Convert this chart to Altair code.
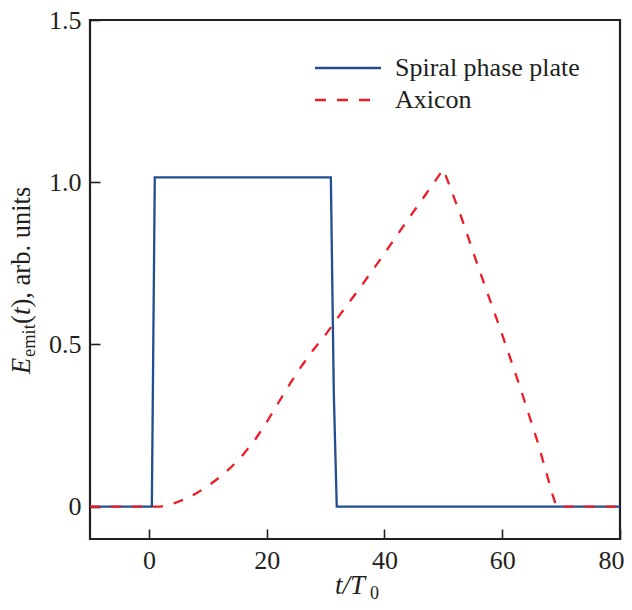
import altair as alt
import pandas as pd

# ---- data ----
spiral_t = [-10, 0.5, 1.0, 30.9, 31.4, 31.9, 80]
spiral_v = [0, 0, 1.015, 1.015, 0.35, 0, 0]

axicon_t = [-10, 2, 4, 6, 8, 10, 12, 14, 16, 18, 20, 22, 24, 26, 28, 30, 33, 36, 40, 44, 47, 50,
            53, 56, 60, 63, 66, 68.5, 69.2, 80]
axicon_v = [0, 0, 0.008, 0.022, 0.040, 0.063, 0.090, 0.122, 0.160, 0.205, 0.26, 0.32, 0.38, 0.435,
            0.485, 0.53, 0.605, 0.678, 0.78, 0.885, 0.962, 1.04,
            0.895, 0.735, 0.53, 0.37, 0.2, 0.04, 0, 0]

x_ticks = [0, 20, 40, 60, 80]
y_ticks = [0, 0.5, 1.0, 1.5]
legend_labels = ["Spiral phase plate", "Axicon"]

BLUE = "#224d8f"
RED = "#ee1c25"
INK = "#231f20"
FONT = "Liberation Serif"
W, H = 530, 519

df_s = pd.DataFrame({"t": spiral_t, "v": spiral_v})
df_a = pd.DataFrame({"t": axicon_t, "v": axicon_v})
one = pd.DataFrame({"a": [0]})

xs = alt.Scale(domain=[-10, 80], nice=False, zero=False)
ys = alt.Scale(domain=[-0.1, 1.5], nice=False, zero=False)

xaxis = alt.Axis(values=x_ticks, title=None, domain=False, grid=False, offset=-10,
                 tickSize=10, tickWidth=1.6, tickColor=INK, labelFont=FONT,
                 labelFontSize=26, labelColor=INK, labelPadding=8, labelFlush=True,
                 labelFlushOffset=4, labelOverlap=False)
yaxis = alt.Axis(values=y_ticks, title=None, domain=False, grid=False, offset=-10,
                 tickSize=10, tickWidth=1.6, tickColor=INK, labelFont=FONT,
                 labelFontSize=26, labelColor=INK, labelPadding=9, labelFlush=False,
                 labelOverlap=False,
                 labelExpr="datum.value == 0 ? '0' : format(datum.value, '.1f')")

line_s = alt.Chart(df_s).mark_line(color=BLUE, strokeWidth=2.3).encode(
    x=alt.X("t:Q", scale=xs, axis=xaxis),
    y=alt.Y("v:Q", scale=ys, axis=yaxis),
)
line_a = alt.Chart(df_a).mark_line(color=RED, strokeWidth=2.3, strokeDash=[10, 11]).encode(
    x="t:Q", y="v:Q"
)

# legend
leg_s = alt.Chart(one).mark_rule(color=BLUE, strokeWidth=2.3).encode(
    x=alt.value(225), x2=alt.value(291), y=alt.value(48))
leg_a = alt.Chart(one).mark_rule(color=RED, strokeWidth=2.3, strokeDash=[11, 11]).encode(
    x=alt.value(225), x2=alt.value(291), y=alt.value(80))
leg_t1 = alt.Chart(one).mark_text(align="left", baseline="alphabetic", font=FONT,
                                  fontSize=26, color=INK).encode(
    x=alt.value(305), y=alt.value(56), text=alt.value(legend_labels[0]))
leg_t2 = alt.Chart(one).mark_text(align="left", baseline="alphabetic", font=FONT,
                                  fontSize=26, color=INK).encode(
    x=alt.value(305), y=alt.value(88), text=alt.value(legend_labels[1]))


def txt(s, x, y, size=26, italic=False, angle=0):
    kw = dict(align="left", baseline="alphabetic", font=FONT, fontSize=size, color=INK)
    if italic:
        kw["fontStyle"] = "italic"
    if angle:
        kw["angle"] = angle
    return alt.Chart(one).mark_text(**kw).encode(
        x=alt.value(x), y=alt.value(y), text=alt.value(s))


# x title: t/T0
xt1 = txt("t/T", 245, 574, size=27, italic=True)
xt2 = txt("0", 280, 579, size=18)

# y title: E_emit(t), arb. units (rotated)
YX = -60
yt1 = txt("E", YX, 354, size=26.5, italic=True, angle=270)
yt2 = txt("emit", YX + 5, 337, size=18.5, angle=270)
yt3 = txt("(", YX, 304, size=26.5, angle=270)
yt4 = txt("t", YX, 295, size=26.5, italic=True, angle=270)
yt5 = txt("), arb. units", YX, 287.5, size=26.5, angle=270)

chart = alt.layer(line_s, line_a, leg_s, leg_a, leg_t1, leg_t2,
                  xt1, xt2, yt1, yt2, yt3, yt4, yt5).properties(
    width=W, height=H,
    autosize=alt.AutoSizeParams(type="none"),
    padding={"left": 82, "top": 12, "right": 4, "bottom": 63},
).configure_view(stroke=INK, strokeWidth=2.2)

chart.save("out.html", embed_options={"renderer": "svg", "actions": False})
